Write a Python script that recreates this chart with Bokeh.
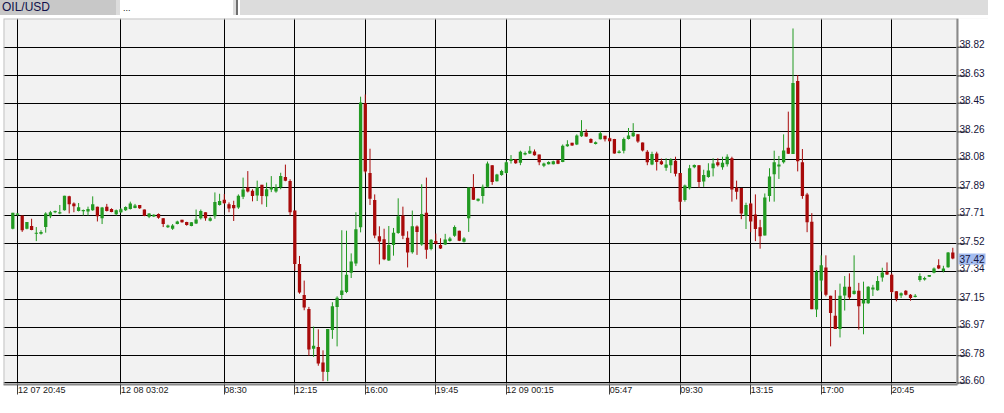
from bokeh.plotting import figure
from bokeh.models import ColumnDataSource, FixedTicker, Range1d, Div
from bokeh.layouts import column
from bokeh.core.properties import value
from bokeh.embed import file_html
from bokeh.resources import INLINE

# ---------------- data (OIL/USD candles, 15-min) ----------------
opens = [37.620, 37.712, 37.707, 37.620, 37.638, 37.586, 37.586, 37.631, 37.703, 37.729,
         37.721, 37.742, 37.834, 37.786, 37.738, 37.736, 37.734, 37.742, 37.766, 37.690,
         37.766, 37.751, 37.716, 37.729, 37.742, 37.751, 37.757, 37.777, 37.747, 37.699,
         37.701, 37.718, 37.690, 37.629, 37.620, 37.651, 37.679, 37.664, 37.638, 37.655,
         37.690, 37.729, 37.673, 37.703, 37.777, 37.812, 37.781, 37.777, 37.760, 37.831,
         37.892, 37.871, 37.840, 37.910, 37.834, 37.879, 37.866, 37.894, 37.962, 37.936,
         37.740, 37.386, 37.181, 37.090, 36.827, 36.838, 36.736, 36.673, 36.951, 37.103,
         37.181, 37.201, 37.329, 37.390, 37.629, 38.449, 37.988, 37.810, 37.570, 37.551,
         37.410, 37.512, 37.592, 37.707, 37.560, 37.464, 37.634, 37.516, 37.725, 37.486,
         37.538, 37.512, 37.516, 37.538, 37.573, 37.607, 37.534, 37.690, 37.894, 37.805,
         37.836, 37.897, 38.040, 37.934, 37.975, 37.988, 38.068, 38.077, 38.057, 38.110,
         38.118, 38.131, 38.110, 38.036, 38.047, 38.047, 38.073, 38.062, 38.166, 38.188,
         38.177, 38.231, 38.257, 38.214, 38.181, 38.212, 38.234, 38.218, 38.214, 38.121,
         38.136, 38.214, 38.231, 38.244, 38.190, 38.129, 38.045, 38.118, 38.066, 38.023,
         38.040, 38.070, 37.988, 37.810, 37.888, 38.027, 38.040, 37.932, 37.962, 38.020,
         38.060, 38.027, 38.047, 38.086, 37.892, 37.890, 37.705, 37.786, 37.714, 37.629,
         37.575, 37.836, 37.981, 38.031, 38.060, 38.155, 38.114, 38.597, 38.060, 37.847,
         37.666, 37.086, 37.277, 37.364, 37.177, 37.044, 36.957, 37.179, 37.236, 37.188,
         37.210, 37.125, 37.127, 37.218, 37.214, 37.297, 37.336, 37.316, 37.207, 37.179,
         37.210, 37.184, 37.168, 37.281, 37.285, 37.303, 37.329, 37.379, 37.340, 37.366,
         37.462]
highs = [37.725, 37.721, 37.707, 37.664, 37.686, 37.631, 37.610, 37.729, 37.738, 37.740,
         37.777, 37.838, 37.838, 37.794, 37.790, 37.747, 37.766, 37.834, 37.766, 37.764,
         37.784, 37.755, 37.747, 37.757, 37.768, 37.799, 37.784, 37.777, 37.747, 37.723,
         37.716, 37.721, 37.690, 37.647, 37.651, 37.673, 37.679, 37.666, 37.664, 37.747,
         37.747, 37.729, 37.699, 37.860, 37.851, 37.849, 37.794, 37.805, 37.847, 37.958,
         38.001, 37.881, 37.938, 37.910, 37.925, 37.968, 37.914, 37.990, 38.044, 37.947,
         37.740, 37.440, 37.277, 37.103, 36.973, 36.955, 36.816, 36.957, 37.134, 37.173,
         37.610, 37.607, 37.457, 37.729, 38.493, 38.508, 38.149, 37.847, 37.636, 37.620,
         37.638, 37.625, 37.821, 37.766, 37.603, 37.740, 37.642, 37.914, 37.958, 37.551,
         37.588, 37.557, 37.586, 37.566, 37.642, 37.607, 37.564, 37.892, 37.981, 37.820,
         37.912, 38.064, 38.040, 37.983, 38.010, 38.070, 38.107, 38.081, 38.136, 38.131,
         38.166, 38.144, 38.110, 38.057, 38.066, 38.070, 38.075, 38.177, 38.205, 38.188,
         38.244, 38.338, 38.277, 38.218, 38.197, 38.264, 38.234, 38.223, 38.214, 38.140,
         38.223, 38.286, 38.318, 38.244, 38.190, 38.140, 38.129, 38.129, 38.084, 38.086,
         38.086, 38.096, 37.988, 37.912, 38.042, 38.045, 38.040, 38.010, 38.053, 38.086,
         38.086, 38.096, 38.112, 38.096, 37.938, 37.890, 37.792, 37.792, 37.847, 37.679,
         37.853, 38.020, 38.136, 38.101, 38.244, 38.394, 38.944, 38.636, 38.147, 37.857,
         37.723, 37.347, 37.444, 37.444, 37.177, 37.214, 37.257, 37.307, 37.325, 37.444,
         37.262, 37.270, 37.240, 37.249, 37.307, 37.362, 37.397, 37.325, 37.207, 37.199,
         37.214, 37.188, 37.188, 37.325, 37.303, 37.314, 37.364, 37.418, 37.375, 37.466,
         37.494]
lows = [37.616, 37.707, 37.599, 37.616, 37.610, 37.538, 37.581, 37.594, 37.690, 37.723,
        37.716, 37.740, 37.721, 37.729, 37.734, 37.707, 37.707, 37.738, 37.668, 37.651,
        37.734, 37.729, 37.707, 37.723, 37.738, 37.747, 37.755, 37.751, 37.703, 37.690,
        37.697, 37.686, 37.631, 37.625, 37.612, 37.649, 37.660, 37.640, 37.636, 37.651,
        37.681, 37.673, 37.668, 37.686, 37.773, 37.784, 37.729, 37.671, 37.751, 37.816,
        37.860, 37.801, 37.803, 37.781, 37.764, 37.862, 37.858, 37.881, 37.934, 37.707,
        37.342, 37.190, 37.081, 36.781, 36.772, 36.714, 36.612, 36.612, 36.892, 36.842,
        37.151, 37.194, 37.294, 37.373, 37.596, 37.986, 37.777, 37.557, 37.384, 37.412,
        37.407, 37.442, 37.586, 37.551, 37.364, 37.455, 37.447, 37.507, 37.421, 37.477,
        37.516, 37.486, 37.512, 37.534, 37.566, 37.538, 37.529, 37.599, 37.810, 37.800,
        37.786, 37.892, 37.910, 37.932, 37.970, 37.983, 38.051, 38.049, 38.040, 38.105,
        38.114, 38.103, 38.040, 38.027, 38.045, 38.045, 38.047, 38.060, 38.162, 38.168,
        38.173, 38.227, 38.227, 38.186, 38.177, 38.210, 38.197, 38.197, 38.116, 38.118,
        38.118, 38.210, 38.227, 38.188, 38.131, 38.040, 38.040, 38.005, 38.042, 38.003,
        37.988, 37.966, 37.744, 37.799, 37.879, 38.020, 37.892, 37.897, 37.957, 37.966,
        38.031, 38.010, 38.031, 37.799, 37.814, 37.683, 37.618, 37.597, 37.538, 37.488,
        37.575, 37.799, 37.799, 37.949, 38.051, 38.114, 38.114, 37.999, 37.818, 37.597,
        37.088, 37.036, 37.205, 37.173, 36.842, 36.957, 36.901, 37.079, 37.151, 37.184,
        36.953, 36.922, 37.123, 37.175, 37.210, 37.270, 37.314, 37.192, 37.140, 37.162,
        37.179, 37.144, 37.166, 37.270, 37.277, 37.301, 37.325, 37.353, 37.331, 37.362,
        37.418]
closes = [37.725, 37.721, 37.610, 37.664, 37.612, 37.594, 37.599, 37.721, 37.729, 37.738,
          37.729, 37.838, 37.781, 37.768, 37.762, 37.744, 37.751, 37.781, 37.703, 37.760,
          37.738, 37.731, 37.742, 37.749, 37.764, 37.786, 37.773, 37.755, 37.705, 37.721,
          37.712, 37.692, 37.651, 37.642, 37.642, 37.668, 37.662, 37.644, 37.662, 37.681,
          37.738, 37.690, 37.690, 37.797, 37.803, 37.788, 37.753, 37.755, 37.838, 37.879,
          37.866, 37.836, 37.894, 37.836, 37.881, 37.894, 37.894, 37.968, 37.938, 37.729,
          37.386, 37.199, 37.099, 36.821, 36.847, 36.729, 36.675, 36.957, 37.107, 37.164,
          37.212, 37.316, 37.403, 37.616, 38.455, 37.999, 37.818, 37.575, 37.536, 37.418,
          37.512, 37.594, 37.703, 37.573, 37.462, 37.636, 37.599, 37.718, 37.481, 37.547,
          37.521, 37.490, 37.549, 37.555, 37.631, 37.540, 37.555, 37.892, 37.812, 37.818,
          37.897, 38.051, 37.929, 37.979, 38.001, 38.060, 38.081, 38.053, 38.129, 38.121,
          38.136, 38.105, 38.060, 38.051, 38.062, 38.066, 38.049, 38.168, 38.179, 38.170,
          38.236, 38.264, 38.229, 38.188, 38.192, 38.251, 38.212, 38.199, 38.118, 38.131,
          38.214, 38.236, 38.257, 38.197, 38.138, 38.060, 38.114, 38.062, 38.047, 38.045,
          38.077, 37.983, 37.799, 37.905, 38.020, 38.042, 37.929, 37.975, 38.005, 38.051,
          38.040, 38.057, 38.096, 37.879, 37.864, 37.720, 37.777, 37.668, 37.618, 37.570,
          37.827, 37.966, 38.060, 38.044, 38.138, 38.116, 38.583, 38.066, 37.836, 37.662,
          37.088, 37.336, 37.379, 37.183, 37.062, 36.957, 37.177, 37.236, 37.166, 37.210,
          37.107, 37.151, 37.236, 37.231, 37.275, 37.331, 37.318, 37.201, 37.157, 37.194,
          37.184, 37.162, 37.177, 37.307, 37.294, 37.314, 37.357, 37.357, 37.357, 37.462,
          37.423]

y_ticks = [36.60, 36.78, 36.97, 37.15, 37.34, 37.52, 37.71, 37.89, 38.08, 38.26, 38.45, 38.63, 38.82]
y_tick_labels = ["36.60", "36.78", "36.97", "37.15", "37.34", "37.52", "37.71",
                 "37.89", "38.08", "38.26", "38.45", "38.63", "38.82"]
x_tick_idx = [1, 23, 45, 60, 75, 90, 105, 127, 142, 157, 172, 187]
x_tick_labels = ["12 07 20:45", "12 08 03:02", "08:30", "12:15", "16:00", "19:45",
                 "12 09 00:15", "05:47", "09:30", "13:15", "17:00", "20:45"]
symbol = "OIL/USD"
last_price = 37.42

# ---------------- layout / styling ----------------
UP = "#229a22"
DOWN = "#a80a0a"
LABEL_COLOR = "#14143a"
FONT = "Liberation Sans"
FS = 9              # time-label font size in px
PX = 4.7            # pixels per candle slot
X_START = -1.979
Y0, Y1 = 36.59, 39.01
n = len(opens)
strip_x = n         # price-scale strip starts right after the last candle slot


def left_anchored(label, room):
    # invisible lead (digit-width / narrow spaces) so that the centred tick label
    # starts at its tick; limited to the room left of the tick (labels are kept
    # inside the canvas by the axis).
    lead, w = "", 0.0
    for ch in label:
        cw = 0.556 * FS if ch.isdigit() else 0.278 * FS
        if w + cw > room:
            break
        lead += "\u2007" if ch.isdigit() else "\u2008"
        w += cw
    return lead + label


idx = list(range(n))
src = ColumnDataSource(dict(
    x=idx, o=opens, h=highs, l=lows, c=closes,
    top=[max(a, b) for a, b in zip(opens, closes)],
    bot=[min(a, b) for a, b in zip(opens, closes)],
    color=[UP if c >= o else DOWN for o, c in zip(opens, closes)],
))

p = figure(width=988, height=382,
           x_range=Range1d(X_START, X_START + 985 / PX), y_range=Range1d(Y0, Y1),
           y_axis_location=None, output_backend="svg", toolbar_location=None,
           min_border_left=3, min_border_right=0, min_border_top=3, min_border_bottom=12,
           background_fill_color="#f2f2f2", border_fill_color="white",
           outline_line_color=None)

# grid
p.xgrid.ticker = FixedTicker(ticks=x_tick_idx)
p.ygrid.ticker = FixedTicker(ticks=y_ticks)
for g in (p.xgrid, p.ygrid):
    g.grid_line_color = "black"
    g.grid_line_width = 1
    g.grid_line_alpha = 1.0

# light border of the chart area (left / top)
p.quad(left=[p.x_range.start], right=[strip_x], bottom=[Y0], top=[Y1],
       fill_color=None, line_color="#c4c4c4", line_width=2)

# candles
p.segment(x0="x", y0="l", x1="x", y1="h", line_color="color", line_width=1, source=src)
p.vbar(x="x", top="top", bottom="bot", width=0.7, fill_color="color",
       line_color=None, source=src)

# price-scale strip on the right (white background, axis line, ticks, labels)
p.quad(left=[strip_x], right=[p.x_range.end], bottom=[Y0], top=[Y1],
       fill_color="white", line_color=None)
p.segment(x0=[strip_x], y0=[Y0], x1=[strip_x], y1=[Y1], line_color="#8a8a8a", line_width=2)
p.segment(x0=[strip_x] * len(y_ticks), y0=y_ticks,
          x1=[strip_x + 10 / PX] * len(y_ticks), y1=y_ticks,
          line_color="#202020", line_width=1)
p.text(x=[strip_x + 2 / PX] * len(y_ticks), y=y_ticks, text=y_tick_labels,
       text_baseline="alphabetic", text_align="left", y_offset=-3,
       text_font=value(FONT), text_font_size="10px", text_color=LABEL_COLOR)
p.rect(x=[strip_x + 14.5 / PX], y=[last_price], width=27, height=11,
       width_units="screen", height_units="screen", fill_color="#a3bcf0", line_color=None)
p.text(x=[strip_x + 2 / PX], y=[last_price], text=[f"{last_price:.2f}"],
       text_baseline="middle", text_align="left",
       text_font=value(FONT), text_font_size="10px", text_color=LABEL_COLOR)

# time axis
xa = p.xaxis[0]
xa.ticker = FixedTicker(ticks=x_tick_idx)
xa.major_label_overrides = {
    t: left_anchored(s, 3 + (t - X_START) * PX + 2) for t, s in zip(x_tick_idx, x_tick_labels)
}
xa.bounds = (p.x_range.start, strip_x)
xa.major_tick_out = 10
xa.major_tick_in = 0
xa.minor_tick_line_color = None
xa.major_tick_line_color = "#404040"
xa.axis_line_color = "#8a8a8a"
xa.axis_line_width = 2
xa.major_label_text_font = FONT
xa.major_label_text_font_size = f"{FS}px"
xa.major_label_text_color = "#202020"
xa.major_label_standoff = -10

tabs_html = (
    '<div style="position:relative;width:988px;height:15px;overflow:hidden;'
    'background:#dcdcdc;font-family:\'Liberation Sans\',sans-serif;">'
    '<div style="position:absolute;left:0;top:0;width:116px;height:15px;padding-left:2px;'
    'background:#c8c8c8;color:#10104a;font-size:12px;line-height:15px;">' + symbol + '</div>'
    '<div style="position:absolute;left:120px;top:0;width:113px;height:15px;padding-left:3px;'
    'background:#ffffff;color:#202020;font-size:9px;line-height:17px;">...</div>'
    '<div style="position:absolute;left:236px;top:0;width:2px;height:15px;background:#707070;"></div>'
    '<div style="position:absolute;left:238px;top:0;width:2px;height:15px;background:#ffffff;"></div>'
    '</div>'
)
tabs = Div(text=tabs_html, width=988, height=15, margin=0)

layout = column(tabs, p, spacing=0)
open("out.html", "w").write(file_html(layout, INLINE))
